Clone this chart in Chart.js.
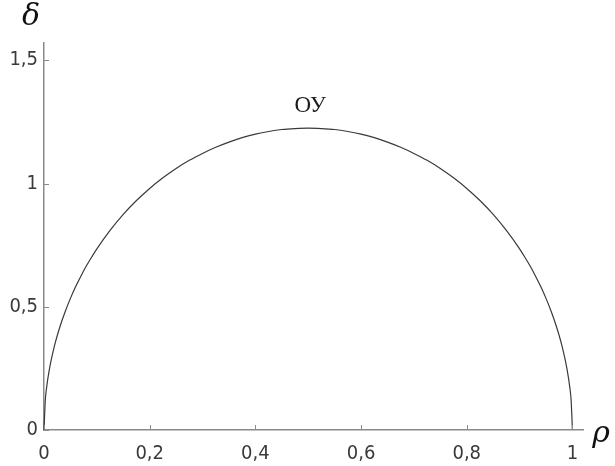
<!DOCTYPE html>
<html>
<head>
<meta charset="utf-8">
<script src="https://cdn.jsdelivr.net/npm/chart.js@4/dist/chart.umd.min.js"></script>
<style>
  body { margin: 0; background: #fff; }
  canvas { display: block; }
</style>
</head>
<body>
<canvas id="chart" width="615" height="466"></canvas>
<script>
// rho / delta points along the curve
var rho   = [0, 0.0025, 0.005, 0.01, 0.02, 0.03, 0.04, 0.05, 0.06, 0.07, 0.08, 0.09, 0.1, 0.125, 0.15, 0.175,
             0.2, 0.225, 0.25, 0.275, 0.3, 0.325, 0.35, 0.375, 0.4, 0.425, 0.45, 0.475, 0.5,
             0.525, 0.55, 0.575, 0.6, 0.625, 0.65, 0.675, 0.7, 0.725, 0.75, 0.775, 0.8, 0.825,
             0.85, 0.875, 0.9, 0.91, 0.92, 0.93, 0.94, 0.95, 0.96, 0.97, 0.98, 0.99, 0.995, 0.9975, 1];
var delta = [0, 0.122, 0.173, 0.244, 0.343, 0.418, 0.48, 0.534, 0.582, 0.625, 0.665, 0.701, 0.735, 0.81, 0.875, 0.931,
             0.98, 1.023, 1.061, 1.094, 1.122, 1.147, 1.168, 1.186, 1.2, 1.211, 1.219, 1.223, 1.225,
             1.223, 1.219, 1.211, 1.2, 1.186, 1.168, 1.147, 1.122, 1.094, 1.061, 1.023, 0.98, 0.931,
             0.875, 0.81, 0.735, 0.701, 0.665, 0.625, 0.582, 0.534, 0.48, 0.418, 0.343, 0.244, 0.173, 0.122, 0];

var xTicks = [0, 0.2, 0.4, 0.6, 0.8, 1];
var yTicks = [0, 0.5, 1, 1.5];
var peakLabel = 'ОУ';

var pts = [];
for (var i = 0; i < rho.length; i++) {
  pts.push({x: rho[i], y: delta[i]});
}

var axisColor = '#8a8a8a';
var textColor = '#3a3a3a';
var tickFont = {family: 'DejaVu Sans Condensed', size: 20};

function fmt(v) {
  return String(v).replace('.', ',');
}

// short tick marks pointing into the plot, plus axis symbols and the peak label
var extras = {
  id: 'extras',
  afterDraw: function(chart) {
    var ctx = chart.ctx;
    var xs = chart.scales.x, ys = chart.scales.y;
    var area = chart.chartArea;
    ctx.save();
    ctx.strokeStyle = axisColor;
    ctx.lineWidth = 1;
    xTicks.forEach(function(t) {
      var px = Math.round(xs.getPixelForValue(t)) + 0.5;
      ctx.beginPath();
      ctx.moveTo(px, area.bottom);
      ctx.lineTo(px, area.bottom - 5);
      ctx.stroke();
    });
    yTicks.forEach(function(t) {
      var py = Math.round(ys.getPixelForValue(t)) + 0.5;
      ctx.beginPath();
      ctx.moveTo(area.left, py);
      ctx.lineTo(area.left + 5, py);
      ctx.stroke();
    });

    ctx.fillStyle = '#111';
    ctx.font = 'italic 30px "DejaVu Serif"';
    ctx.textAlign = 'center';
    ctx.textBaseline = 'middle';
    ctx.fillText('δ', 31, 17);
    ctx.fillText('ρ', 601, 434);

    var peak = Math.max.apply(null, delta);
    var pIdx = delta.indexOf(peak);
    ctx.font = '23px "Liberation Serif"';
    ctx.fillStyle = '#1a1a1a';
    ctx.textBaseline = 'alphabetic';
    ctx.fillText(peakLabel, xs.getPixelForValue(rho[pIdx]) + 2, ys.getPixelForValue(peak) - 16);
    ctx.restore();
  }
};

new Chart(document.getElementById('chart'), {
  type: 'line',
  data: {
    datasets: [{
      data: pts,
      borderColor: '#3a3a3a',
      borderWidth: 1.2,
      pointRadius: 0,
      fill: false,
      cubicInterpolationMode: 'monotone',
      clip: false
    }]
  },
  options: {
    responsive: false,
    animation: false,
    layout: {padding: {top: 43, right: 32, left: 0, bottom: 0}},
    plugins: {legend: {display: false}, tooltip: {enabled: false}},
    scales: {
      x: {
        type: 'linear',
        min: 0,
        max: 1.02,
        afterBuildTicks: function(s) { s.ticks = xTicks.map(function(v) { return {value: v}; }); },
        afterFit: function(s) { s.height = 36; },
        grid: {display: false, drawTicks: false},
        border: {display: true, color: axisColor, width: 1.5},
        ticks: {
          color: textColor, font: tickFont, padding: 12, maxRotation: 0,
          callback: function(v) { return fmt(v); }
        }
      },
      y: {
        type: 'linear',
        min: 0,
        max: 1.57,
        afterBuildTicks: function(s) { s.ticks = yTicks.map(function(v) { return {value: v}; }); },
        afterFit: function(s) { s.width = 44; },
        grid: {display: false, drawTicks: false},
        border: {display: true, color: axisColor, width: 1.5},
        ticks: {
          color: textColor, font: tickFont, padding: 6,
          callback: function(v) { return fmt(v); }
        }
      }
    }
  },
  plugins: [extras]
});
</script>
</body>
</html>
